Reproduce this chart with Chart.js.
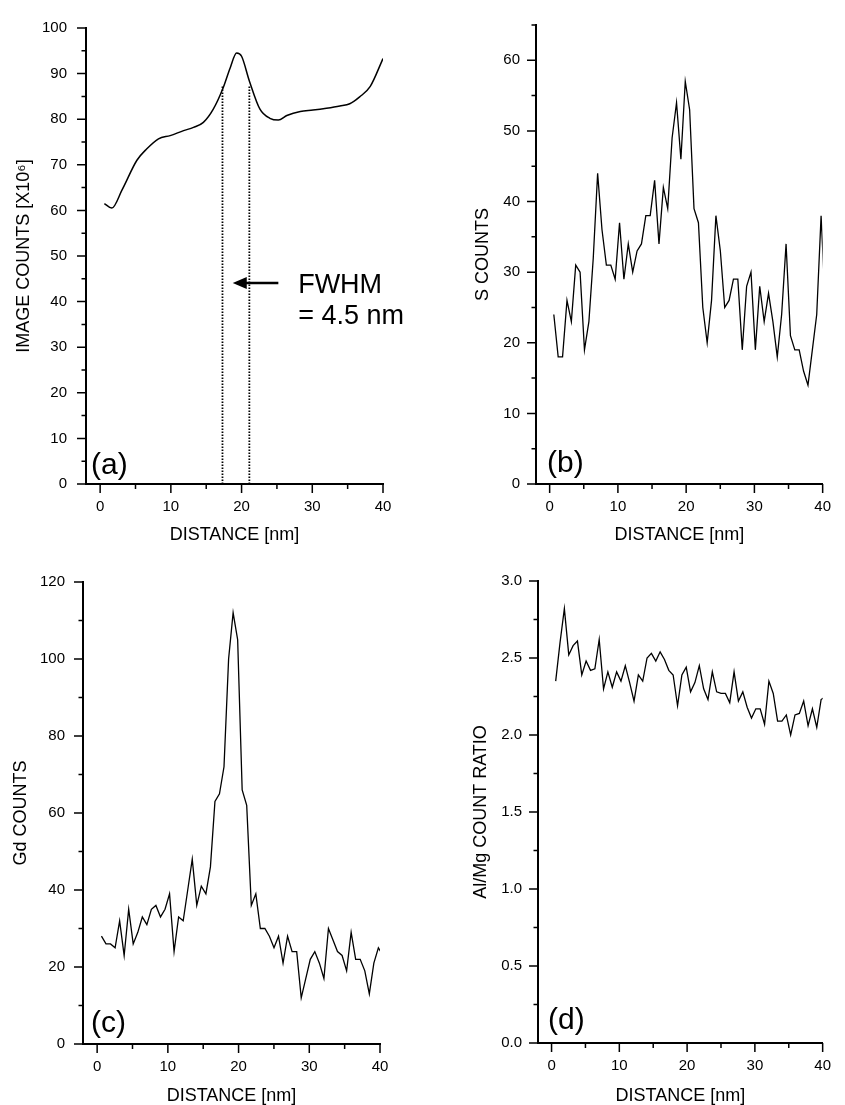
<!DOCTYPE html>
<html>
<head>
<meta charset="utf-8">
<script src="https://cdn.jsdelivr.net/npm/chart.js@4"></script>
<style>
  body { margin: 0; background: #fff; overflow: hidden; width: 845px; height: 1105px; position: relative; }
  canvas { position: absolute; }
</style>
</head>
<body>
<canvas id="panelA" width="422" height="552" style="left:0;top:0"></canvas>
<canvas id="panelB" width="423" height="552" style="left:422px;top:0"></canvas>
<canvas id="panelC" width="422" height="560" style="left:0;top:552px"></canvas>
<canvas id="panelD" width="423" height="560" style="left:422px;top:552px"></canvas>
<script>
// x ticks shared by all four panels (labels on the multiples of 10)
var distanceTicks = [0, 5, 10, 15, 20, 25, 30, 35, 40];

// (a) image intensity profile
var imageDistance = [0.6, 1.65, 3.1, 5.2, 6.6, 8.25, 9.9, 11.8, 13.2, 14.6, 16.0, 17.3, 18.4, 19.3,
  20.0, 21.1, 22.6, 24.0, 25.2, 26.4, 28.3, 30.1, 32.0, 33.9, 35.3, 36.7, 38.2, 40.0];
var imageCounts = [61.5, 60.5, 64.5, 71, 73.5, 75.7, 76.4, 77.5, 78.2, 79.3, 82.2, 86.5, 91.3, 94.5,
  93.8, 88.4, 82.2, 80.2, 79.8, 80.8, 81.7, 82, 82.4, 82.9, 83.4, 84.9, 87.2, 93.3];
var fwhmEdges = [17.3, 21.1];
var fwhmTop = 87.5;
var fwhmArrowX = [20.6, 25.2];
var fwhmArrowTip = 18.75;
var fwhmArrowY = 44.1;
var noteLines = ['FWHM', '= 4.5 nm'];
var noteX = 28.0;
var noteY = [41.8, 35.1];

// (b)-(d) EDS line scan, same sampling points
var distanceNm = [0.61, 1.25, 1.89, 2.54, 3.18, 3.82, 4.46, 5.10, 5.75, 6.39,
  7.03, 7.67, 8.31, 8.96, 9.60, 10.24, 10.88, 11.52, 12.17, 12.81,
  13.45, 14.09, 14.73, 15.38, 16.02, 16.66, 17.30, 17.94, 18.59, 19.23,
  19.87, 20.51, 21.15, 21.80, 22.44, 23.08, 23.72, 24.36, 25.01, 25.65,
  26.29, 26.93, 27.57, 28.22, 28.86, 29.50, 30.14, 30.78, 31.43, 32.07,
  32.71, 33.35, 33.99, 34.64, 35.28, 35.92, 36.56, 37.20, 37.85, 38.49,
  39.13, 39.77, 40.41];
var sCounts = [24, 18, 18, 26, 23, 31, 30, 19, 23, 32,
  44, 36, 31, 31, 29, 37, 29, 34, 30, 33,
  34, 38, 38, 43, 34, 42, 39, 49, 54, 46,
  57, 53, 39, 37, 25, 20, 26, 38, 33, 25,
  26, 29, 29, 19, 28, 30, 19, 28, 23, 27,
  23, 18, 24, 34, 21, 19, 19, 16, 14, 19,
  24, 38, 25];
var gdCounts = [28, 26, 26, 25, 32, 23, 35, 26, 29, 33,
  31, 35, 36, 33, 35, 39, 24, 33, 32, 40,
  48, 36, 41, 39, 46, 63, 65, 72, 100, 112,
  105, 66, 62, 36, 39, 30, 30, 28, 25, 28,
  21, 28, 24, 24, 12, 17, 22, 24, 21, 17,
  30, 27, 24, 23, 19, 29, 22, 22, 19, 13,
  21, 25, 23];
var alMgRatio = [2.35, 2.60, 2.82, 2.52, 2.58, 2.61, 2.39, 2.48, 2.42, 2.43,
  2.62, 2.30, 2.41, 2.31, 2.41, 2.35, 2.45, 2.34, 2.22, 2.39,
  2.35, 2.50, 2.53, 2.48, 2.54, 2.49, 2.42, 2.39, 2.19, 2.39,
  2.44, 2.28, 2.34, 2.45, 2.30, 2.23, 2.41, 2.28, 2.27, 2.27,
  2.21, 2.41, 2.22, 2.28, 2.18, 2.11, 2.17, 2.17, 2.07, 2.35,
  2.27, 2.09, 2.09, 2.13, 2.00, 2.13, 2.14, 2.22, 2.06, 2.17,
  2.05, 2.23, 2.25];

var FONT = '"Liberation Sans", Arial, Helvetica, sans-serif';
Chart.defaults.font.family = FONT;
Chart.defaults.color = '#000';

function pts(xs, ys) {
  return xs.map(function (x, i) { return { x: x, y: ys[i] }; });
}
function isMultiple(v, step) {
  var r = v / step;
  return Math.abs(r - Math.round(r)) < 1e-6;
}

// outward tick marks (long at labels, short in between) + panel letter
var tickMarks = {
  id: 'tickMarks',
  afterDraw: function (chart, args, o) {
    var ctx = chart.ctx, area = chart.chartArea;
    var xs = chart.scales.x, ys = chart.scales.y;
    ctx.save();
    ctx.strokeStyle = '#000';
    ctx.lineWidth = 1.5;
    ctx.beginPath();
    xs.ticks.forEach(function (t) {
      var len = isMultiple(t.value, 10) ? 9 : 5;
      var px = xs.getPixelForValue(t.value);
      ctx.moveTo(px, area.bottom);
      ctx.lineTo(px, area.bottom + len);
    });
    ys.ticks.forEach(function (t) {
      if (!isMultiple(t.value, o.yMinor)) return;
      var len = isMultiple(t.value, o.yMajor) ? 9 : 4.5;
      var py = ys.getPixelForValue(t.value);
      ctx.moveTo(area.left, py);
      ctx.lineTo(area.left - len, py);
    });
    ctx.stroke();
    ctx.fillStyle = '#000';
    ctx.font = '30px ' + FONT;
    ctx.textBaseline = 'alphabetic';
    ctx.fillText(o.tag, area.left + o.tagDx, area.bottom - o.tagDy);
    ctx.restore();
  }
};

// FWHM arrow head and note in panel (a)
var fwhmNote = {
  id: 'fwhmNote',
  afterDatasetsDraw: function (chart) {
    var ctx = chart.ctx, xs = chart.scales.x, ys = chart.scales.y;
    var tip = xs.getPixelForValue(fwhmArrowTip), py = ys.getPixelForValue(fwhmArrowY);
    ctx.save();
    ctx.fillStyle = '#000';
    ctx.beginPath();
    ctx.moveTo(tip, py);
    ctx.lineTo(tip + 14, py - 6);
    ctx.lineTo(tip + 14, py + 6);
    ctx.closePath();
    ctx.fill();
    ctx.font = '27px ' + FONT;
    ctx.textBaseline = 'alphabetic';
    noteLines.forEach(function (line, i) {
      ctx.fillText(line, xs.getPixelForValue(noteX), ys.getPixelForValue(noteY[i]));
    });
    ctx.restore();
  }
};

function lineSet(data, width, extra) {
  var ds = { data: data, borderColor: '#000', borderWidth: width, pointRadius: 0, fill: false, tension: 0 };
  for (var k in extra) ds[k] = extra[k];
  return ds;
}

function panel(id, o) {
  return new Chart(document.getElementById(id), {
    type: 'line',
    data: { datasets: o.datasets },
    options: {
      responsive: false,
      animation: false,
      devicePixelRatio: 1,
      layout: { autoPadding: false, padding: o.pad },
      plugins: {
        legend: { display: false },
        tooltip: { enabled: false },
        tickMarks: o.marks
      },
      scales: {
        x: {
          type: 'linear', min: -2, max: 40,
          grid: { display: false, drawTicks: false },
          border: { display: true, color: '#000', width: 2 },
          afterBuildTicks: function (s) {
            s.ticks = distanceTicks.map(function (v) { return { value: v }; });
          },
          ticks: {
            autoSkip: false, maxRotation: 0, padding: 14, font: { size: 15 },
            callback: function (v) { return isMultiple(v, 10) ? String(v) : ''; }
          },
          title: { display: true, text: 'DISTANCE [nm]', font: { size: 18 }, padding: { top: 0, bottom: o.xTitlePad } },
          afterFit: function (s) { s.height = o.xHeight; }
        },
        y: {
          type: 'linear', min: 0, max: o.yMax,
          grid: { display: false, drawTicks: false },
          border: { display: true, color: '#000', width: 2 },
          ticks: {
            stepSize: o.marks.yMinor, autoSkip: false, padding: o.yTickPad, font: { size: 15 },
            callback: function (v) { return isMultiple(v, o.marks.yMajor) ? v.toFixed(o.dec) : ''; }
          },
          title: { display: true, text: o.yTitle, font: { size: 18 }, padding: { top: o.yTitlePad, bottom: 0 } },
          afterFit: function (s) { s.width = o.yWidth; }
        }
      }
    },
    plugins: o.plugins
  });
}

panel('panelA', {
  datasets: [
    lineSet(pts(imageDistance, imageCounts), 1.5, { cubicInterpolationMode: 'monotone' }),
    lineSet(pts([fwhmEdges[0], fwhmEdges[0]], [0, fwhmTop]), 1.8, { borderDash: [1.5, 1.5] }),
    lineSet(pts([fwhmEdges[1], fwhmEdges[1]], [0, fwhmTop]), 1.8, { borderDash: [1.5, 1.5] }),
    lineSet(pts(fwhmArrowX, [fwhmArrowY, fwhmArrowY]), 2.5, {})
  ],
  pad: { left: 0, right: 39, top: 23, bottom: 0 },
  xHeight: 68, xTitlePad: 6,
  yMax: 100, yWidth: 86, yTickPad: 19, yTitlePad: 13, dec: 0,
  yTitle: 'IMAGE COUNTS [X10\u2076]',
  marks: { yMajor: 10, yMinor: 5, tag: '(a)', tagDx: 5, tagDy: 10 },
  plugins: [tickMarks, fwhmNote]
});

panel('panelB', {
  datasets: [lineSet(pts(distanceNm, sCounts), 1.3, {})],
  pad: { left: 0, right: 12, top: 22, bottom: 0 },
  xHeight: 68, xTitlePad: 6,
  yMax: 65, yWidth: 114, yTickPad: 16, yTitlePad: 50, dec: 0,
  yTitle: 'S COUNTS',
  marks: { yMajor: 10, yMinor: 5, tag: '(b)', tagDx: 11, tagDy: 12 },
  plugins: [tickMarks]
});

panel('panelC', {
  datasets: [lineSet(pts(distanceNm, gdCounts), 1.3, {})],
  pad: { left: 0, right: 42, top: 30, bottom: 0 },
  xHeight: 68, xTitlePad: 5,
  yMax: 120, yWidth: 83, yTickPad: 18, yTitlePad: 10, dec: 0,
  yTitle: 'Gd COUNTS',
  marks: { yMajor: 20, yMinor: 10, tag: '(c)', tagDx: 8, tagDy: 12 },
  plugins: [tickMarks]
});

panel('panelD', {
  datasets: [lineSet(pts(distanceNm, alMgRatio), 1.3, {})],
  pad: { left: 0, right: 10, top: 29, bottom: 0 },
  xHeight: 69, xTitlePad: 5,
  yMax: 3, yWidth: 116, yTickPad: 16, yTitlePad: 48, dec: 1,
  yTitle: 'Al/Mg COUNT RATIO',
  marks: { yMajor: 0.5, yMinor: 0.25, tag: '(d)', tagDx: 10, tagDy: 14 },
  plugins: [tickMarks]
});
</script>
</body>
</html>
